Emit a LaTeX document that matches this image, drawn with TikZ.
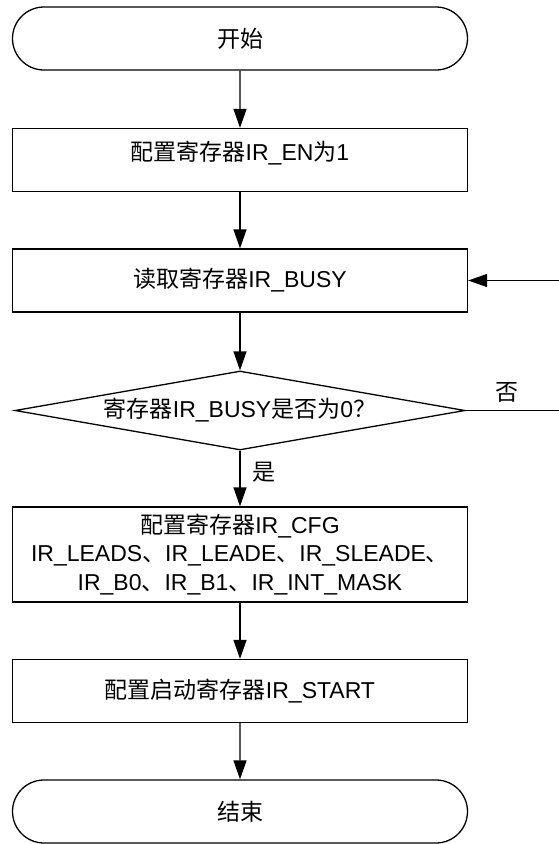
\documentclass[tikz,border=0pt]{standalone}
\usepackage{fontspec}
\setmainfont{Liberation Sans}
\newfontfamily\cjk{Noto Sans CJK SC}
\newcommand{\zhtxt}[1]{{\cjk #1}}
\usetikzlibrary{arrows.meta,shapes.misc,shapes.geometric}

\begin{document}
\begin{tikzpicture}[x=1pt,y=-1pt,line width=1.3pt,
  font=\fontsize{23pt}{28.5pt}\selectfont,
  term/.style={draw, rounded rectangle, minimum width=455pt, minimum height=63pt, inner sep=0pt},
  proc/.style={draw, rectangle, minimum width=455pt, minimum height=63pt, inner sep=0pt, align=center},
  arr/.style={-{Triangle[length=19pt,width=13pt]}}]
\useasboundingbox (0,0) rectangle (558,844);
\node[term] (start) at (240,38.5) {\zhtxt{开始}};
\node[proc, text depth=19pt] (setEn) at (240,160) {\zhtxt{配置寄存器}IR\_EN\zhtxt{为}1};
\node[proc] (readBusy) at (240,280.5) {\zhtxt{读取寄存器}IR\_BUSY};
\node[draw, diamond, aspect=5.7, inner sep=0pt, minimum width=450pt, minimum height=79pt] (isZero) at (240,410.5) {\zhtxt{寄存器}IR\_BUSY\zhtxt{是否为}0\zhtxt{？}};
\node[proc, minimum height=95pt] (setCfg) at (240,554.5) {\zhtxt{配置寄存器}IR\_CFG\\IR\_LEADS\zhtxt{、}IR\_LEADE\zhtxt{、}IR\_SLEADE\zhtxt{、}\\IR\_B0\zhtxt{、}IR\_B1\zhtxt{、}IR\_INT\_MASK};
\node[proc] (setStart) at (240,691) {\zhtxt{配置启动寄存器}IR\_START};
\node[term] (stop) at (240,811.5) {\zhtxt{结束}};
\node (no) at (507,392) {\zhtxt{否}};
\node (yes) at (264,472) {\zhtxt{是}};
\coordinate (back) at (566,410.5);
\draw[arr] (start) -- (setEn);
\draw[arr] (setEn) -- (readBusy);
\draw[arr] (readBusy) -- (isZero);
\draw[arr] (isZero) -- (setCfg);
\draw[arr] (setCfg) -- (setStart);
\draw[arr] (setStart) -- (stop);
\draw[arr] (isZero.east) -- (back) |- (readBusy.east);
\end{tikzpicture}
\end{document}
